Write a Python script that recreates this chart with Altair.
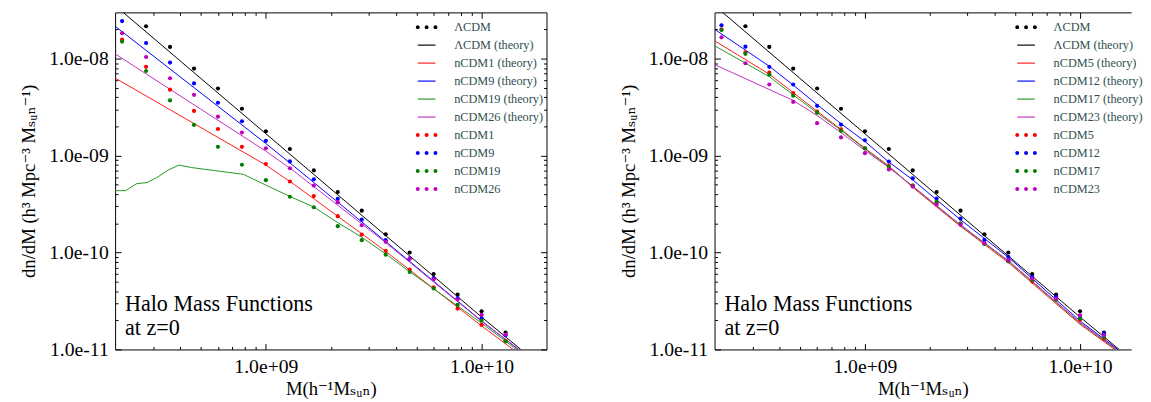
import altair as alt
import pandas as pd

# ---------------- data ----------------
# masses of the simulation points (h^-1 Msun)
M_GRID = [2.154e8, 2.783e8, 3.594e8, 4.642e8, 5.995e8, 7.743e8, 1.0e9, 1.292e9, 1.668e9,
          2.154e9, 2.783e9, 3.594e9, 4.642e9, 5.995e9, 7.743e9, 1.0e10, 1.292e10]

LCDM_PTS = [None, 2.16e-8, 1.32e-8, 7.9e-9, 4.92e-9, 3.04e-9, 1.78e-9, 1.17e-9, 7.03e-10,
            4.21e-10, 2.70e-10, 1.54e-10, 1.0e-10, 6.0e-11, 3.68e-11, 2.48e-11, 1.49e-11]

# left panel points
NCDM1_PTS = [1.57e-8, 8.24e-9, 4.79e-9, 2.89e-9, 1.88e-9, 1.23e-9, 8.17e-10, 5.4e-10, 3.82e-10,
             2.37e-10, 1.53e-10, 1.04e-10, 6.65e-11, 4.37e-11, 2.64e-11, 1.79e-11, 1.23e-11]
NCDM9_PTS = [2.44e-8, 1.45e-8, 9.1e-9, 5.55e-9, 3.51e-9, 2.26e-9, 1.42e-9, 8.7e-10, 5.7e-10,
             3.58e-10, 2.18e-10, 1.34e-10, 8.7e-11, 5.45e-11, 3.38e-11, 2.1e-11, 1.4e-11]
NCDM19_PTS = [1.50e-8, 7.45e-9, 3.71e-9, 2.07e-9, 1.23e-9, 8.05e-10, 5.58e-10, 3.76e-10, 2.93e-10,
              1.87e-10, 1.34e-10, 9.5e-11, 6.3e-11, 4.25e-11, 2.88e-11, 1.99e-11, 1.21e-11]
NCDM26_PTS = [1.83e-8, 1.04e-8, 6.28e-9, 4.23e-9, 2.52e-9, 1.73e-9, 1.19e-9, 7.4e-10, 4.9e-10,
              3.31e-10, 1.91e-10, 1.29e-10, 8.6e-11, 5.3e-11, 3.3e-11, 2.27e-11, 1.43e-11]

# right panel points
NCDM5_PTS = [2.01e-8, 1.16e-8, 7.16e-9, 4.41e-9, 2.85e-9, 1.87e-9, 1.19e-9, 7.85e-10, 4.89e-10,
             3.25e-10, 1.99e-10, 1.23e-10, 8.14e-11, 5.02e-11, 3.27e-11, 2.02e-11, 1.29e-11]
NCDM12_PTS = [2.21e-8, 1.33e-8, 8.24e-9, 5.41e-9, 3.26e-9, 2.09e-9, 1.44e-9, 8.67e-10, 5.83e-10,
              3.61e-10, 2.24e-10, 1.35e-10, 9.0e-11, 5.6e-11, 3.52e-11, 2.22e-11, 1.47e-11]
NCDM17_PTS = [1.97e-8, 1.12e-8, 6.84e-9, 4.15e-9, 2.77e-9, 1.80e-9, 1.19e-9, 7.66e-10, 4.89e-10,
              3.33e-10, 1.99e-10, 1.23e-10, 8.14e-11, 5.22e-11, 3.27e-11, 2.09e-11, 1.34e-11]
NCDM23_PTS = [1.66e-8, 8.96e-9, 5.41e-9, 3.58e-9, 2.16e-9, 1.54e-9, 1.06e-9, 7.19e-10, 4.81e-10,
              3.13e-10, 1.93e-10, 1.25e-10, 8.34e-11, 5.38e-11, 3.35e-11, 2.25e-11, 1.41e-11]

# theory curves (mass, dn/dM)
LCDM_TH_M = [2.0e8, 1.0e9, 1.0e10, 1.52e10]
LCDM_TH = [3.53e-8, 1.68e-9, 2.16e-11, 1.0e-11]

NCDM1_TH_M = [2.0e8, 1.0e9, 1.36e9, 3.59e9, 1.0e10, 1.40e10]
NCDM1_TH = [6.31e-9, 7.98e-10, 5.0e-10, 1.03e-10, 1.75e-11, 1.0e-11]
NCDM9_TH_M = [2.0e8, 1.0e9, 1.36e9, 3.59e9, 1.0e10, 1.48e10]
NCDM9_TH = [2.16e-8, 1.33e-9, 7.66e-10, 1.30e-10, 1.97e-11, 1.0e-11]
NCDM26_TH_M = [2.0e8, 1.0e9, 1.36e9, 3.59e9, 1.0e10, 1.49e10]
NCDM26_TH = [1.12e-8, 1.11e-9, 6.82e-10, 1.27e-10, 1.95e-11, 1.0e-11]
NCDM19_TH_M = [2.0e8, 2.24e8, 2.51e8, 2.81e8, 3.12e8, 3.53e8, 3.96e8, 4.51e8, 5.86e8, 7.87e8,
               9.93e8, 1.29e9, 1.67e9, 2.15e9, 2.78e9, 3.61e9, 4.66e9, 6.01e9, 7.76e9, 1.0e10, 1.45e10]
NCDM19_TH = [4.35e-10, 4.35e-10, 5.12e-10, 5.27e-10, 5.93e-10, 7.10e-10, 7.98e-10, 7.53e-10,
             6.98e-10, 6.40e-10, 5.0e-10, 3.80e-10, 2.94e-10, 2.04e-10, 1.44e-10, 9.59e-11,
             6.30e-11, 4.21e-11, 2.80e-11, 1.87e-11, 1.0e-11]

NCDM5_TH_M = [2.0e8, 3.59e8, 4.63e8, 5.98e8, 7.73e8, 1.0e9, 1.29e9, 1.67e9, 2.76e9, 4.66e9, 1.0e10, 1.45e10]
NCDM5_TH = [1.53e-8, 6.93e-9, 4.49e-9, 2.88e-9, 1.87e-9, 1.19e-9, 7.85e-10, 4.69e-10, 1.89e-10,
            7.83e-11, 1.82e-11, 1.0e-11]
NCDM12_TH_M = [2.0e8, 3.59e8, 4.63e8, 5.98e8, 7.73e8, 1.0e9, 1.29e9, 1.67e9, 2.76e9, 4.66e9, 1.0e10, 1.50e10]
NCDM12_TH = [2.01e-8, 8.36e-9, 5.36e-9, 3.37e-9, 2.14e-9, 1.40e-9, 8.61e-10, 5.61e-10, 2.21e-10,
             8.87e-11, 1.97e-11, 1.0e-11]
NCDM17_TH_M = [2.0e8, 3.59e8, 4.63e8, 5.98e8, 7.73e8, 1.0e9, 1.29e9, 1.67e9, 2.76e9, 4.66e9, 1.0e10, 1.47e10]
NCDM17_TH = [1.36e-8, 6.52e-9, 4.25e-9, 2.77e-9, 1.83e-9, 1.17e-9, 7.66e-10, 4.81e-10, 1.93e-10,
             8.07e-11, 1.87e-11, 1.0e-11]
NCDM23_TH_M = [2.0e8, 3.90e8, 4.63e8, 5.98e8, 7.73e8, 1.0e9, 1.29e9, 1.67e9, 2.76e9, 4.66e9, 1.0e10, 1.48e10]
NCDM23_TH = [8.69e-9, 4.42e-9, 3.72e-9, 2.60e-9, 1.73e-9, 1.13e-9, 7.55e-10, 4.84e-10, 1.96e-10,
             8.20e-11, 1.90e-11, 1.0e-11]

LEFT_LABELS = ["ΛCDM", "ΛCDM (theory)", "nCDM1 (theory)", "nCDM9 (theory)", "nCDM19 (theory)",
               "nCDM26 (theory)", "nCDM1", "nCDM9", "nCDM19", "nCDM26"]
RIGHT_LABELS = ["ΛCDM", "ΛCDM (theory)", "nCDM5 (theory)", "nCDM12 (theory)", "nCDM17 (theory)",
                "nCDM23 (theory)", "nCDM5", "nCDM12", "nCDM17", "nCDM23"]
SERIES_COLORS = ["#000000", "#000000", "#ff1a1a", "#0000ff", "#229922", "#c030c0",
                 "#ff0000", "#0000ff", "#008000", "#bf00bf"]
SERIES_KINDS = ["dots", "line", "line", "line", "line", "line", "dots", "dots", "dots", "dots"]

X_MAJOR = [1e9, 1e10]
X_TICK_LABELS = ["1.0e+09", "1.0e+10"]
Y_MAJOR = [1e-11, 1e-10, 1e-9, 1e-8]
Y_TICK_LABELS = ["1.0e-11", "1.0e-10", "1.0e-09", "1.0e-08"]
X_DOMAIN = [2e8, 2e10]
# the right panel of the reference is cut at the picture's edge: visible mass range only
X_DOMAIN_RIGHT = [2e8, 1.73e10]
Y_DOMAIN = [1e-11, 3e-8]

ANNOTATION = ["Halo Mass Functions", "at z=0"]
X_TITLE = "M(h⁻¹Mₛᵤₙ)"
Y_TITLE = "dn/dM (h³ Mpc⁻³ Mₛᵤₙ⁻¹)"

# ---------------- styling helpers ----------------
FONT = "'Liberation Serif', 'DejaVu Serif', serif"
W_LEFT, W_RIGHT, H = 439, 424, 343

SHAPES = {
    "dots": ("M-1.22,0a0.22,0.22 0 1,0 0.44,0a0.22,0.22 0 1,0 -0.44,0Z"
             "M-0.22,0a0.22,0.22 0 1,0 0.44,0a0.22,0.22 0 1,0 -0.44,0Z"
             "M0.78,0a0.22,0.22 0 1,0 0.44,0a0.22,0.22 0 1,0 -0.44,0Z"),
    "line": "M-1,-0.065L1,-0.065L1,0.065L-1,0.065Z",
}


def minor_ticks(lo_exp, hi_exp, extra):
    vals = []
    for e in range(lo_exp, hi_exp):
        for m in range(1, 10):
            vals.append(float(f"{m}e{e}"))
    return vals + extra


X_TICKS = [v for v in minor_ticks(8, 10, [1e10]) if v >= 3e8]
Y_TICKS = minor_ticks(-11, -8, [1e-8, 2e-8])


def js_list(vals):
    return "[" + ",".join(repr(v) for v in vals) + "]"


def label_expr(majors, labels):
    parts = [f"datum.value == {repr(v)} ? '{t}'" for v, t in zip(majors, labels)]
    return " : ".join(parts) + " : ''"


def tick_expr(majors):
    return f"indexof({js_list(majors)}, datum.value) >= 0 ? -6 : -3"


def make_axis(orient, ticks, majors, labels_text, title):
    show = labels_text is not None
    return alt.Axis(
        orient=orient,
        values=ticks,
        labels=show,
        labelExpr=label_expr(majors, labels_text) if show else "''",
        tickSize={"expr": tick_expr(majors)},
        labelPadding=13,
        labelOverlap=False,
        labelFlush=False,
        grid=False,
        domainColor="black",
        domainWidth=1,
        tickColor="black",
        tickWidth=1,
        title=title,
    )


def build_panel(labels, point_values, theory_pairs, width, x_domain, right_axis):
    rows = []
    for lab, vals in point_values:
        for m, v in zip(M_GRID, vals):
            if v is not None:
                rows.append({"label": lab, "M": m, "dn": v})
    pts = pd.DataFrame(rows)
    rows = []
    for lab, ms, vals in theory_pairs:
        for m, v in zip(ms, vals):
            rows.append({"label": lab, "M": m, "dn": v})
    lines_df = pd.DataFrame(rows)
    legend_df = pd.DataFrame({"label": labels, "M": [1e9] * len(labels), "dn": [1e-9] * len(labels)})

    xs = alt.Scale(type="log", domain=x_domain, nice=False)
    ys = alt.Scale(type="log", domain=Y_DOMAIN, nice=False)
    cs = alt.Scale(domain=labels, range=SERIES_COLORS)
    ss = alt.Scale(domain=labels, range=[SHAPES[k] for k in SERIES_KINDS])

    leg = alt.Legend(
        title=None, orient="none", legendX=308, legendY=6, padding=0,
        symbolSize=324, symbolOpacity=1, symbolStrokeWidth=0, labelOffset=19,
        rowPadding=2.3, labelFont=FONT, labelFontSize=12.5, labelColor="#2f4f4f",
        labelLimit=300,
    )

    legend_layer = alt.Chart(legend_df).mark_point(filled=True, size=0).encode(
        x=alt.X("M:Q", scale=xs, axis=make_axis("top", X_TICKS, X_MAJOR, None, None)),
        y=alt.Y("dn:Q", scale=ys,
                axis=make_axis("right", Y_TICKS, Y_MAJOR, None, None) if right_axis else None),
        color=alt.Color("label:N", scale=cs, legend=leg),
        shape=alt.Shape("label:N", scale=ss, legend=leg),
    )
    lines = alt.Chart(lines_df).mark_line(strokeWidth=1, clip=True).encode(
        x=alt.X("M:Q", scale=xs, axis=make_axis("bottom", X_TICKS, X_MAJOR, X_TICK_LABELS, X_TITLE)),
        y=alt.Y("dn:Q", scale=ys, axis=make_axis("left", Y_TICKS, Y_MAJOR, Y_TICK_LABELS, Y_TITLE)),
        color=alt.Color("label:N", scale=cs, legend=None),
    )
    points = alt.Chart(pts).mark_circle(size=18, opacity=1, clip=True).encode(
        x=alt.X("M:Q", scale=xs, axis=None),
        y=alt.Y("dn:Q", scale=ys, axis=None),
        color=alt.Color("label:N", scale=cs, legend=None),
    )
    ann1 = alt.Chart(pd.DataFrame({"t": [ANNOTATION[0]]})).mark_text(
        align="left", baseline="alphabetic", font=FONT, fontSize=22.5, color="black"
    ).encode(text="t:N", x=alt.value(10), y=alt.value(304))
    ann2 = alt.Chart(pd.DataFrame({"t": [ANNOTATION[1]]})).mark_text(
        align="left", baseline="alphabetic", font=FONT, fontSize=22.5, color="black"
    ).encode(text="t:N", x=alt.value(10), y=alt.value(328))

    return alt.layer(legend_layer, lines, points, ann1, ann2).resolve_axis(
        x="independent", y="independent"
    ).properties(width=width, height=H)


left = build_panel(
    LEFT_LABELS,
    [("ΛCDM", LCDM_PTS), ("nCDM1", NCDM1_PTS), ("nCDM9", NCDM9_PTS),
     ("nCDM19", NCDM19_PTS), ("nCDM26", NCDM26_PTS)],
    [("ΛCDM (theory)", LCDM_TH_M, LCDM_TH), ("nCDM1 (theory)", NCDM1_TH_M, NCDM1_TH),
     ("nCDM9 (theory)", NCDM9_TH_M, NCDM9_TH), ("nCDM19 (theory)", NCDM19_TH_M, NCDM19_TH),
     ("nCDM26 (theory)", NCDM26_TH_M, NCDM26_TH)],
    W_LEFT, X_DOMAIN, True,
)
right = build_panel(
    RIGHT_LABELS,
    [("ΛCDM", LCDM_PTS), ("nCDM5", NCDM5_PTS), ("nCDM12", NCDM12_PTS),
     ("nCDM17", NCDM17_PTS), ("nCDM23", NCDM23_PTS)],
    [("ΛCDM (theory)", LCDM_TH_M, LCDM_TH), ("nCDM5 (theory)", NCDM5_TH_M, NCDM5_TH),
     ("nCDM12 (theory)", NCDM12_TH_M, NCDM12_TH), ("nCDM17 (theory)", NCDM17_TH_M, NCDM17_TH),
     ("nCDM23 (theory)", NCDM23_TH_M, NCDM23_TH)],
    W_RIGHT, X_DOMAIN_RIGHT, False,
)

chart = alt.hconcat(left, right, spacing=73).resolve_scale(
    color="independent", shape="independent"
).resolve_legend(color="independent", shape="independent").properties(
    padding={"left": 12, "top": 0, "right": 0, "bottom": 0}
).configure_view(stroke=None).configure_axis(
    labelFont=FONT, labelFontSize=20, labelColor="black",
    titleFont=FONT, titleFontSize=19, titleFontWeight="normal", titleColor="black",
    titlePadding=10,
).configure_axisBottom(titlePadding=1)

chart.save("out.html", embed_options={"renderer": "svg", "actions": False})
